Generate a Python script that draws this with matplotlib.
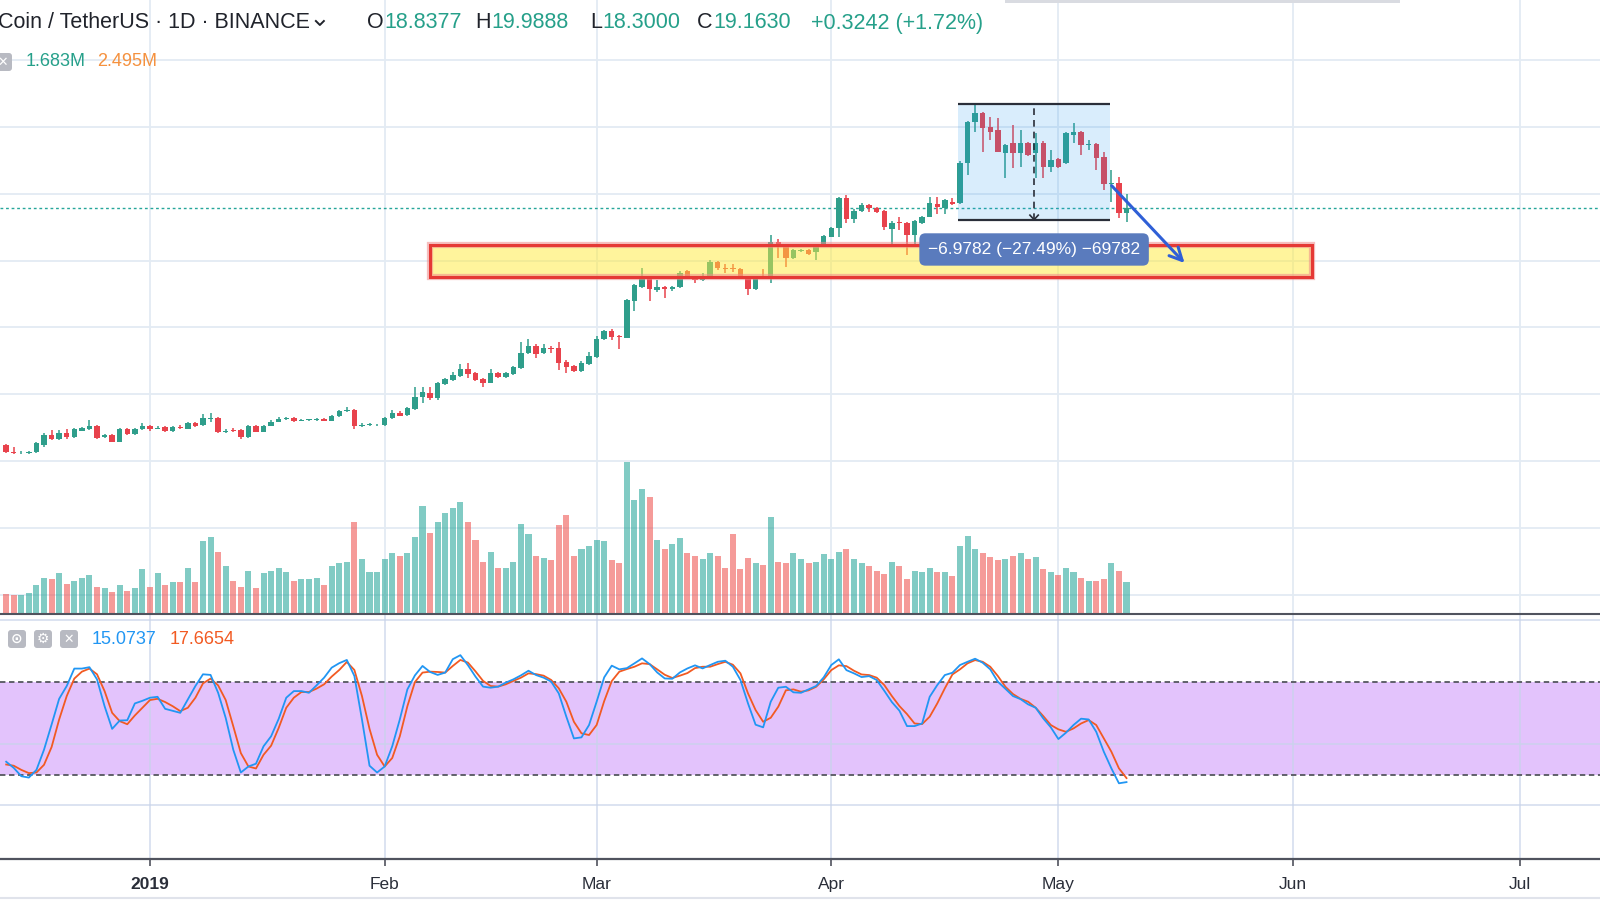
# -*- coding: utf-8 -*-
"""
    Binance Coin / TetherUS daily chart with volume and Stoch RSI
    (TradingView-style screenshot recreation)
"""

import numpy as np
import pandas as pd
import matplotlib
matplotlib.use("Agg")
import matplotlib.pyplot as plt
import matplotlib.dates as mdates
from matplotlib.patches import Rectangle, FancyBboxPatch
from matplotlib.lines import Line2D

plt.rcParams['font.family'] = ['Liberation Sans', 'DejaVu Sans']

# ─────────────────────────────────────────────────────────────────────────────
# --- DATA ---
# ─────────────────────────────────────────────────────────────────────────────
dates = pd.date_range("2018-12-13", periods=149, freq="D")

open_ = [4.96, 4.56, 4.46, 4.50, 4.52, 4.96, 5.56, 5.34, 5.66, 5.42,
         5.82, 5.90, 6.10, 5.46, 5.56, 5.16, 5.92, 5.62, 5.90, 6.10,
         5.94, 6.02, 5.78, 6.06, 5.94, 6.26, 6.14, 6.50, 6.56, 5.74,
         5.86, 5.86, 5.42, 6.10, 5.76, 6.10, 6.36, 6.50, 6.58, 6.42,
         6.44, 6.46, 6.54, 6.42, 6.72, 6.98, 7.06, 6.10, 6.18, 6.13,
         6.16, 6.56, 6.90, 6.76, 7.10, 7.82, 8.10, 7.76, 8.60, 8.86,
         9.10, 9.51, 9.26, 8.90, 8.69, 9.29, 9.02, 9.22, 9.56, 10.45,
         10.91, 10.45, 10.75, 10.75, 9.95, 9.69, 9.39, 9.81, 10.25, 11.29,
         11.79, 11.45, 11.39, 13.61, 14.44, 15.04, 14.27, 14.41, 14.29, 14.41,
         15.38, 15.04, 14.84, 14.94, 15.90, 15.54, 15.52, 15.50, 15.00, 14.29,
         15.02, 15.04, 17.10, 16.84, 16.14, 16.56, 16.64, 16.50, 16.94, 17.44,
         17.94, 19.73, 18.48, 18.99, 19.33, 19.13, 18.99, 17.88, 18.27, 18.27,
         17.54, 18.24, 18.63, 19.39, 19.13, 19.53, 19.47, 21.83, 24.29, 24.86,
         23.99, 23.82, 22.43, 23.03, 22.43, 23.03, 22.43, 23.06, 21.63, 22.07,
         21.83, 23.53, 23.72, 22.93, 22.99, 22.23, 20.59, 20.63, 18.8377]

close = [4.56, 4.46, 4.50, 4.54, 5.06, 5.58, 5.34, 5.66, 5.42, 5.90,
         5.96, 6.10, 5.40, 5.56, 5.16, 5.92, 5.62, 5.92, 6.10, 5.94,
         5.98, 5.80, 6.02, 5.96, 6.26, 6.10, 6.56, 6.52, 5.74, 5.82,
         5.80, 5.42, 6.10, 5.76, 6.10, 6.36, 6.50, 6.58, 6.42, 6.44,
         6.46, 6.54, 6.42, 6.72, 6.98, 7.06, 6.10, 6.18, 6.19, 6.16,
         6.56, 6.86, 6.72, 7.16, 7.86, 8.14, 7.76, 8.66, 8.90, 9.16,
         9.53, 9.21, 8.86, 8.69, 9.26, 9.05, 9.26, 9.62, 10.49, 10.91,
         10.41, 10.75, 10.69, 9.89, 9.65, 9.39, 9.89, 10.31, 11.29, 11.79,
         11.41, 11.41, 13.65, 14.55, 15.04, 14.29, 14.41, 14.29, 14.41, 15.28,
         15.08, 14.84, 15.00, 15.93, 15.54, 15.53, 15.50, 15.08, 14.29, 15.00,
         14.97, 17.10, 16.84, 16.14, 16.64, 16.64, 16.40, 16.94, 17.48, 17.94,
         19.73, 18.48, 18.99, 19.33, 19.13, 18.93, 17.99, 18.27, 18.24, 17.54,
         18.39, 18.63, 19.43, 19.20, 19.63, 19.39, 21.87, 24.32, 24.86, 23.93,
         23.72, 22.53, 22.93, 22.43, 23.03, 22.33, 23.03, 21.63, 22.03, 21.59,
         23.63, 23.72, 22.93, 22.99, 22.13, 20.59, 20.63, 18.8388, 19.1630]

high = [5.02, 4.83, 4.60, 4.63, 5.14, 5.68, 5.86, 5.86, 5.90, 5.98,
        6.04, 6.46, 6.16, 5.62, 5.62, 5.98, 5.98, 5.98, 6.28, 6.16,
        6.07, 6.10, 6.10, 6.13, 6.34, 6.34, 6.82, 6.90, 6.64, 5.89,
        5.95, 5.92, 6.16, 6.16, 6.16, 6.46, 6.64, 6.64, 6.64, 6.49,
        6.52, 6.58, 6.58, 6.76, 7.06, 7.22, 7.12, 6.25, 6.25, 6.22,
        6.64, 7.06, 6.97, 7.24, 8.46, 8.46, 8.46, 8.74, 8.98, 9.34,
        9.79, 9.88, 9.34, 8.98, 9.51, 9.36, 9.34, 9.69, 11.12, 11.29,
        11.01, 11.01, 10.89, 11.12, 10.05, 9.75, 9.99, 10.53, 11.49, 11.85,
        11.89, 11.55, 13.71, 14.61, 15.54, 15.11, 14.87, 14.49, 14.49, 15.38,
        15.47, 15.11, 15.24, 16.03, 15.98, 15.80, 15.80, 15.56, 15.08, 15.08,
        15.48, 17.54, 17.28, 16.88, 16.70, 16.70, 16.70, 17.00, 17.54, 18.02,
        19.81, 19.96, 19.09, 19.45, 19.39, 19.21, 19.06, 18.35, 18.63, 18.32,
        18.46, 18.70, 19.83, 19.80, 19.69, 19.73, 21.94, 24.39, 25.385, 24.93,
        24.62, 24.53, 22.99, 24.12, 23.82, 23.11, 23.63, 23.14, 22.63, 22.15,
        23.71, 24.23, 23.79, 23.23, 23.05, 22.53, 21.43, 20.99, 19.9888]

low = [4.48, 4.42, 4.42, 4.45, 4.48, 4.86, 5.26, 5.26, 5.35, 5.38,
       5.77, 5.86, 5.34, 5.38, 5.14, 5.14, 5.56, 5.56, 5.86, 5.82,
       5.89, 5.74, 5.74, 5.92, 5.89, 6.04, 6.10, 6.36, 5.68, 5.68,
       5.74, 5.35, 5.38, 5.71, 5.74, 6.07, 6.34, 6.46, 6.34, 6.37,
       6.40, 6.40, 6.37, 6.37, 6.64, 6.94, 5.94, 6.04, 6.10, 6.07,
       6.10, 6.52, 6.67, 6.70, 7.06, 7.48, 7.66, 7.66, 8.56, 8.80,
       9.04, 8.96, 8.80, 8.46, 8.65, 9.00, 8.95, 9.16, 9.51, 10.41,
       10.16, 10.41, 10.45, 9.45, 9.29, 9.33, 9.33, 9.75, 10.20, 11.25,
       11.25, 10.71, 11.34, 12.99, 14.39, 13.59, 14.11, 13.75, 14.20, 14.37,
       15.02, 14.65, 14.78, 14.89, 15.46, 15.26, 15.32, 15.02, 13.94, 14.25,
       14.90, 14.68, 16.14, 15.64, 16.10, 16.49, 16.34, 16.04, 16.88, 17.39,
       17.44, 18.24, 18.24, 18.94, 18.93, 18.85, 17.84, 17.00, 17.84, 16.34,
       16.84, 18.20, 18.59, 18.80, 18.80, 19.33, 19.42, 21.13, 23.72, 22.53,
       23.23, 22.48, 20.93, 21.53, 21.63, 22.27, 20.93, 20.93, 21.33, 21.55,
       21.79, 23.03, 22.33, 22.63, 21.43, 20.23, 19.53, 18.54, 18.3000]

# volume in millions
volume_m = [1.03, 0.98, 0.98, 1.07, 1.52, 1.92, 1.83, 2.16, 1.57, 1.74,
            1.92, 2.06, 1.43, 1.34, 1.12, 1.52, 1.19, 1.34, 2.39, 1.43,
            2.16, 1.52, 1.67, 1.67, 2.46, 1.67, 3.91, 4.13, 3.33, 2.54,
            1.74, 1.43, 2.30, 1.36, 2.16, 2.30, 2.46, 2.23, 1.74, 1.83,
            1.83, 1.90, 1.52, 2.54, 2.70, 2.77, 4.92, 2.93, 2.23, 2.23,
            2.93, 3.24, 3.09, 3.24, 4.13, 5.81, 4.36, 4.92, 5.41, 5.72,
            6.03, 4.92, 3.96, 2.77, 3.33, 2.46, 2.46, 2.77, 4.83, 4.29,
            3.09, 3.00, 2.86, 4.76, 5.32, 3.09, 3.49, 3.65, 3.96, 3.89,
            2.86, 2.70, 8.20, 6.12, 6.73, 6.28, 3.96, 3.49, 3.73, 4.06,
            3.24, 3.09, 2.93, 3.24, 3.09, 2.46, 4.29, 2.39, 3.00, 2.70,
            2.62, 5.23, 2.77, 2.70, 3.24, 2.93, 2.70, 2.77, 3.19, 2.93,
            3.33, 3.49, 2.93, 2.70, 2.54, 2.30, 2.13, 2.77, 2.54, 1.83,
            2.30, 2.23, 2.46, 2.23, 2.23, 1.99, 3.64, 4.20, 3.49, 3.24,
            3.02, 2.86, 2.93, 3.09, 3.24, 2.93, 3.02, 2.39, 2.23, 2.06,
            2.46, 2.23, 1.92, 1.74, 1.74, 1.83, 2.70, 2.30, 1.683]
volume_ma_m = 2.495

stoch_k = [28.3, 24.3, 18.9, 18.0, 23.0, 36.1, 52.4, 69.1, 77.4, 88.7,
           88.7, 89.6, 81.7, 64.3, 49.6, 55.0, 55.2, 66.1, 67.8, 69.8,
           70.4, 62.6, 61.3, 60.0, 68.7, 77.4, 85.0, 84.6, 73.0, 56.7,
           36.1, 21.3, 25.2, 27.0, 38.3, 44.8, 56.1, 69.8, 74.1, 74.1,
           73.0, 77.8, 82.8, 89.3, 92.2, 94.3, 83.9, 55.7, 25.7, 21.3,
           25.2, 38.3, 55.7, 75.2, 84.3, 90.4, 86.5, 84.6, 86.1, 94.8,
           97.4, 90.9, 83.5, 77.0, 76.3, 77.0, 79.6, 81.7, 84.3,
           87.3, 84.5, 82.8, 80.2, 72.6, 57.5, 43.4, 44.1, 52.1, 67.2,
           83.0, 90.6, 88.2, 89.0, 92.1, 95.3, 91.6, 86.2, 82.3, 82.1,
           86.2, 88.8, 90.8, 88.8, 91.0, 93.1, 93.8, 89.9, 81.3, 66.1,
           52.3, 50.6, 67.2, 76.3, 76.9, 73.3, 73.0, 75.2, 77.4, 83.0,
           91.0, 94.7, 87.7, 85.6, 83.2, 83.8, 81.3, 74.3, 67.0, 61.4,
           51.4, 51.4, 53.1, 70.4, 78.0, 84.5, 86.0, 91.0, 93.1, 95.1,
           92.5, 88.2, 80.2, 75.6, 70.9, 68.9, 65.5, 63.3, 56.4, 50.6,
           43.0, 47.1, 52.1, 56.2, 55.7, 47.7, 34.8, 24.0, 14.3, 15.0737]

stoch_d = [26.5, 25.7, 23.0, 20.9, 21.3, 26.3, 37.8, 55.7, 70.9, 82.2,
           86.7, 88.7, 85.0, 74.1, 60.0, 54.6, 52.6, 58.3, 63.3, 68.3,
           69.1, 67.0, 64.3, 61.1, 63.3, 69.8, 79.1, 82.2, 77.8, 68.3,
           51.3, 33.9, 25.2, 23.9, 32.8, 38.7, 50.2, 63.3, 69.8, 73.5,
           73.5, 75.7, 78.5, 83.5, 87.8, 93.0, 87.8, 70.9, 49.6, 32.8,
           25.2, 30.7, 44.8, 64.3, 80.0, 86.1, 86.7, 86.5, 86.1, 90.4,
           94.3, 92.6, 86.9, 80.7, 77.4, 77.0, 78.5, 80.7, 82.8,
           85.6, 85.1, 84.1, 81.3, 75.9, 67.2, 54.2, 46.7, 45.6, 52.1,
           67.6, 80.6, 86.7, 88.4, 89.9, 92.1, 91.6, 88.2, 84.7, 82.6,
           84.1, 85.8, 89.0, 89.9, 89.9, 91.6, 93.1, 91.2, 85.6, 72.6,
           61.8, 54.2, 56.8, 64.0, 74.6, 75.2, 73.7, 74.6, 76.9, 81.7,
           87.7, 90.8, 90.3, 87.3, 84.9, 84.5, 82.8, 78.0, 70.9, 64.4,
           59.2, 53.1, 52.7, 57.5, 66.1, 75.9, 84.9, 88.2, 92.1, 94.2,
           93.1, 89.9, 83.9, 76.9, 72.2, 69.1, 67.2, 63.3, 57.9, 52.1,
           49.3, 47.7, 49.9, 53.1, 55.3, 52.1, 43.4, 34.8, 24.0, 17.6654]

# support zone and measuring tool
zone_low, zone_high = 15.02, 16.94
zone_start, zone_end = pd.Timestamp("2019-02-07 00:00"), pd.Timestamp("2019-06-03 12:00")
measure_start, measure_end = pd.Timestamp("2019-04-17 19:00"), pd.Timestamp("2019-05-07 19:00")
measure_top, measure_change = 25.385, -6.9782
arrow_end = (pd.Timestamp("2019-05-17 22:00"), 15.74)
arrow_start_price = 20.61

month_ticks = pd.to_datetime(["2019-01-01", "2019-02-01", "2019-03-01", "2019-04-01",
                              "2019-05-01", "2019-06-01", "2019-07-01"])
month_labels = ["2019", "Feb", "Mar", "Apr", "May", "Jun", "Jul"]

# ─────────────────────────────────────────────────────────────────────────────
# --- LAYOUT helpers (pixel grid of a 1600x900 screenshot) ---
# ─────────────────────────────────────────────────────────────────────────────
W, H = 1600, 900
UP, DOWN = '#2f9e8b', '#e8424c'
VOL_UP, VOL_DOWN = '#26a69a', '#ef5350'
GRID = '#e3ebf3'
DARK = '#20232b'

def fy(px):
    return 1 - px / H

xd = mdates.date2num(dates)
o, c = np.array(open_), np.array(close)
h = np.maximum(np.array(high), np.maximum(o, c))
l = np.minimum(np.array(low), np.minimum(o, c))
up = c >= o

jan1 = mdates.date2num(pd.Timestamp("2019-01-01"))
xlim = (jan1 - 19.815, jan1 + 191.55)
price_lim = (-5.10, 31.61)

fig = plt.figure(figsize=(16, 9), dpi=100)
fig.patch.set_facecolor('white')
renderer = fig.canvas.get_renderer()

main_rect = [0, fy(613), 1, 613 / H]
ax_grid = fig.add_axes(main_rect, zorder=0)
ax_vol = fig.add_axes(main_rect, zorder=1)
ax = fig.add_axes(main_rect, zorder=2)
for a in (ax_grid, ax_vol, ax):
    a.set_xlim(*xlim)
    a.axis('off')
ax_vol.patch.set_visible(False)
ax.patch.set_visible(False)
ax_grid.set_ylim(*price_lim)
ax.set_ylim(*price_lim)
ax_vol.set_ylim(0, 613 / 18.42)

# grid
for p in range(-4, 32, 4):
    ax_grid.axhline(p, color=GRID, lw=1.3)
for m in mdates.date2num(month_ticks):
    ax_grid.axvline(m, color=GRID, lw=1.3)

# volume
ax_vol.bar(xd, volume_m, width=0.8, color=[VOL_UP if u else VOL_DOWN for u in up],
           alpha=0.58, lw=0)

# candles
cols = [UP if u else DOWN for u in up]
ax.vlines(xd, l, h, colors=cols, lw=1.1, zorder=3)
body_lo = np.minimum(o, c)
body_h = np.maximum(np.abs(c - o), 0.05)
ax.bar(xd, body_h, bottom=body_lo, width=0.72, color=cols, lw=0, zorder=3)

# last price line
ax.axhline(close[-1], color='#26a69a', lw=1, ls=(0, (2, 2)), zorder=2)

# support zone (drawn over candles, translucent)
zs, ze = mdates.date2num(zone_start), mdates.date2num(zone_end)
ax.add_patch(Rectangle((zs, zone_low), ze - zs, zone_high - zone_low,
                       facecolor='#ffeb3b', alpha=0.5, lw=0, zorder=5))
ax.add_patch(Rectangle((zs, zone_low), ze - zs, zone_high - zone_low,
                       fill=False, edgecolor='#f08a8a', lw=4.5, alpha=0.55, zorder=5.5))
ax.add_patch(Rectangle((zs, zone_low), ze - zs, zone_high - zone_low,
                       fill=False, edgecolor='#e53935', lw=2.2, zorder=6))

# measuring box
ms, me = mdates.date2num(measure_start), mdates.date2num(measure_end)
mm = (ms + me) / 2
m_bottom = measure_top + measure_change
ax.add_patch(Rectangle((ms, m_bottom), me - ms, measure_top - m_bottom,
                       facecolor='#2196f3', alpha=0.17, lw=0, zorder=5))
ax.hlines([measure_top, m_bottom], ms, me, colors='#2a2e39', lw=1.6, zorder=6)
ax.plot([mm, mm], [m_bottom, measure_top], color='#2a2e39', lw=1.2, ls=(0, (4, 3)), zorder=6)
ax.plot([mm - 0.55, mm, mm + 0.55], [m_bottom + 0.32, m_bottom + 0.05, m_bottom + 0.32],
        color='#2a2e39', lw=1.2, zorder=6)

label = "{:.4f} ({:.2f}%) {:.0f}".format(measure_change,
                                         measure_change / measure_top * 100,
                                         measure_change * 1e4).replace('-', '\u2212')
ax.text(mm, 16.67, label, ha='center', va='center', color='white', fontsize=12.5,
        zorder=8, bbox=dict(boxstyle='round,pad=0.5,rounding_size=0.35',
                            fc='#5a7bbd', ec='none'))

# projection arrow
ax.annotate("", xy=(mdates.date2num(arrow_end[0]), arrow_end[1]),
            xytext=(me, arrow_start_price), zorder=9,
            arrowprops=dict(arrowstyle='->,head_length=0.9,head_width=0.45',
                            color='#2f5fd6', lw=2.2))

# ─────────────────────────────────────────────────────────────────────────────
# --- STOCH RSI PANE ---
# ─────────────────────────────────────────────────────────────────────────────
ax_st = fig.add_axes([0, fy(859), 1, (859 - 614) / H])
ax_st.set_xlim(*xlim)
ax_st.set_ylim(-34.8, 124.1)
ax_st.axhspan(20, 80, color='#e3c3fc', lw=0, zorder=0)
for v in (0, 40, 120):
    ax_st.axhline(v, color='#c8d4ea', alpha=0.7, lw=1.3, zorder=1)
for m in mdates.date2num(month_ticks):
    ax_st.axvline(m, color='#c8d4ea', alpha=0.7, lw=1.3, zorder=1)
for v in (20, 80):
    ax_st.axhline(v, color='#55575f', lw=1.3, ls=(0, (3, 2)), zorder=2)
ax_st.plot(xd, stoch_d, color='#f25a22', lw=1.3, zorder=3)
ax_st.plot(xd, stoch_k, color='#2196f3', lw=1.3, zorder=4)

for s in ('top', 'left', 'right'):
    ax_st.spines[s].set_visible(False)
ax_st.spines['bottom'].set_color('#50535e')
ax_st.spines['bottom'].set_linewidth(1.6)
ax_st.set_yticks([])
ax_st.set_xticks(mdates.date2num(month_ticks))
ax_st.set_xticklabels(month_labels)
ax_st.tick_params(axis='x', length=5, width=1.2, color='#50535e', labelsize=12.5,
                  labelcolor='#2a2e39', pad=8)
ax_st.get_xticklabels()[0].set_fontweight('bold')

# pane separator and bottom edge
fig.add_artist(Line2D([0, 1], [fy(613.5)] * 2, color='#50535e', lw=1.5))
fig.add_artist(Line2D([0, 1], [fy(898)] * 2, color='#e0e3eb', lw=1.5))
fig.add_artist(Rectangle((1005 / W, fy(3)), 395 / W, 3 / H, transform=fig.transFigure,
                         color='#d9dbe1', lw=0))

# ─────────────────────────────────────────────────────────────────────────────
# --- HEADER / LEGENDS ---
# ─────────────────────────────────────────────────────────────────────────────
VAL = '#26a08a'
row1 = fy(23)

def text_after(prev, txt, gap=0.0, **kw):
    """Place a text right after the end of another text (pixel gap)."""
    x1 = prev.get_window_extent(renderer).x1
    return fig.text((x1 + gap) / W, row1, txt, va='center', **kw)

title = fig.text(-2 / W, row1, "Coin / TetherUS \u00b7 1D \u00b7 BINANCE", fontsize=15.5,
                 color=DARK, va='center', ha='left')
# little dropdown chevron after the symbol name
tx = title.get_window_extent(renderer).x1 + 6
fig.add_artist(Line2D([tx / W, (tx + 4) / W, (tx + 8) / W], [fy(21), fy(25), fy(21)],
                      color=DARK, lw=1.4))

change = close[-1] - close[-2]
header = [("O", 367, open_[-1]), ("H", 475, high[-1]),
          ("L", 590, low[-1]), ("C", 697, close[-1])]
for letter, x, val in header:
    t = fig.text(x / W, row1, letter, fontsize=15.5, color=DARK, va='center')
    text_after(t, "{:.4f}".format(val), gap=0.5, fontsize=15.5, color=VAL)
fig.text(811 / W, row1, "{:+.4f} ({:+.2f}%)".format(change, change / close[-2] * 100),
         fontsize=15.5, color=VAL, va='center')

def icon(x, y, w, hh, glyph, size=10):
    fig.add_artist(FancyBboxPatch((x / 100, (H - y - hh) / 100), w / 100, hh / 100,
                                  boxstyle='round,pad=0,rounding_size=0.03',
                                  transform=fig.dpi_scale_trans,
                                  fc='#b8bac2', ec='none'))
    fig.text((x + w / 2) / W, fy(y + hh / 2), glyph, color='white', fontsize=size,
             ha='center', va='center', family=['DejaVu Sans'], fontweight='bold')

row2 = fy(62)
icon(-6, 53, 18, 18, "\u2715", 9)
fig.text(26 / W, row2, "{:.3f}M".format(volume_m[-1]), fontsize=13, color=VAL, va='center')
fig.text(97 / W, row2, "{:.3f}M".format(volume_ma_m), fontsize=13, color='#f5913e', va='center')

icon(8, 630, 18, 18, "\u2299", 10)
icon(34, 630, 18, 18, "\u2699", 10)
icon(60, 630, 18, 18, "\u2715", 9)
fig.text(92 / W, fy(639), "{:.4f}".format(stoch_k[-1]), fontsize=13, color='#2196f3', va='center')
fig.text(170 / W, fy(639), "{:.4f}".format(stoch_d[-1]), fontsize=13, color='#f25a22', va='center')

fig.savefig("out.png", dpi=100, facecolor='white')
print("Saved: out.png")
